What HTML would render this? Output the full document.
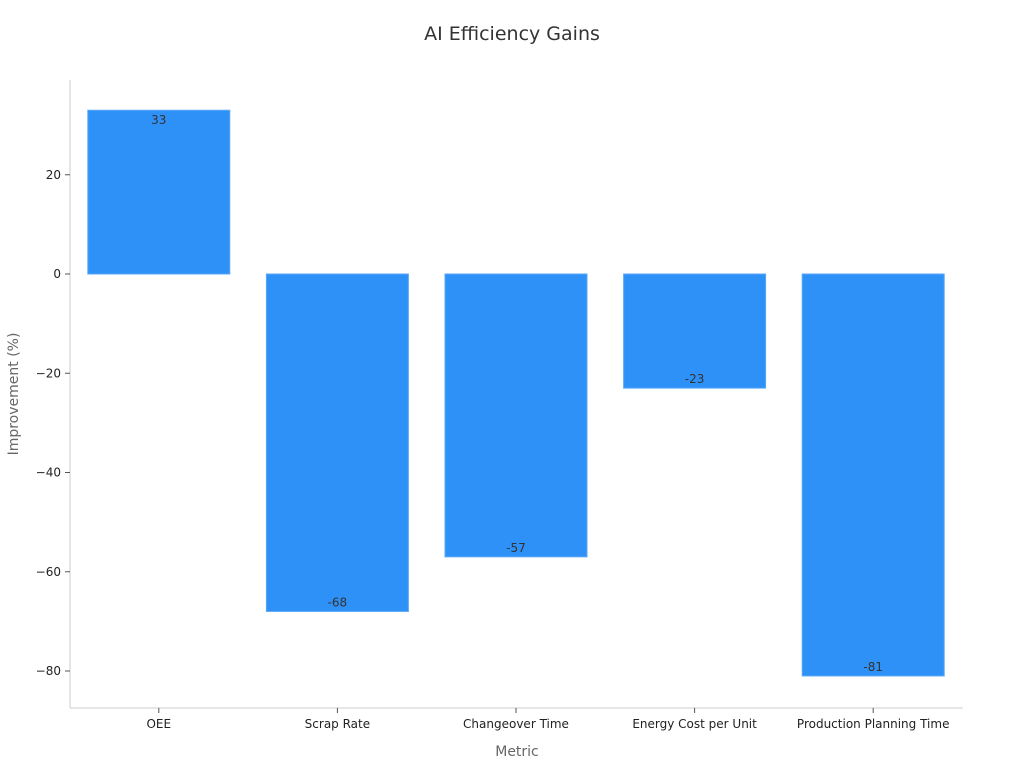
<!DOCTYPE html>
<html><head><meta charset="utf-8"><style>
body{margin:0;background:#fff;font-family:"DejaVu Sans","Liberation Sans",sans-serif;}
</style></head><body>
<svg id="chart" width="1024" height="768" xmlns="http://www.w3.org/2000/svg" font-family="DejaVu Sans, Liberation Sans, sans-serif">
<text x="512" y="40" text-anchor="middle" font-size="19" fill="#333">AI Efficiency Gains</text>
<g id="axes"></g>
<g id="bars"></g>
<text x="517" y="756" text-anchor="middle" font-size="14" fill="#666">Metric</text>
<text transform="translate(18,394) rotate(-90)" text-anchor="middle" font-size="14" fill="#666">Improvement (%)</text>
</svg>
<script>
const categories = ["OEE","Scrap Rate","Changeover Time","Energy Cost per Unit","Production Planning Time"];
const values = [33,-68,-57,-23,-81];
const yTicks = [20,0,-20,-40,-60,-80];
const yTickLabels = ["20","0","\u221220","\u221240","\u221260","\u221280"];
const NS="http://www.w3.org/2000/svg";
const L=70,R=963,T=80,B=708;
const y=v=>274-v*4.9625;
const band=(R-L)/categories.length;
const xc=i=>L+band*(i+0.5)-0.5;
const bw=142;
function mk(t,a,p){const e=document.createElementNS(NS,t);for(const k in a)e.setAttribute(k,a[k]);p.appendChild(e);return e;}
const ax=document.getElementById('axes'),bg=document.getElementById('bars');
const yl=mk('line',{x1:L,y1:T,x2:L,y2:B,stroke:'#ccc'},ax);


const xl=mk('line',{x1:L,y1:B,x2:R,y2:B,stroke:'#ccc'},ax);


yTicks.forEach((v,i)=>{
  const tk=mk('line',{x1:L-5,x2:L,y1:y(v),y2:y(v),stroke:'#555'},ax);
  
  
  const t=mk('text',{x:L-9,y:y(v)+4,'text-anchor':'end','font-size':12,fill:'#222'},ax);
  t.textContent=yTickLabels[i];
  
  
});
categories.forEach((c,i)=>{
  const x=xc(i);
  const tk=mk('line',{x1:x,x2:x,y1:B,y2:B+5,stroke:'#555'},ax);
  
  
  const t=mk('text',{x:x,y:B+20,'text-anchor':'middle','font-size':12,fill:'#222'},ax);
  t.textContent=c;
  
  
  const v=values[i];
  const y0=y(0),y1=y(v);
  const r=mk('rect',{x:x-bw/2,y:Math.min(y0,y1),width:bw,height:Math.abs(y1-y0),fill:'#2e91f7',stroke:'#5aa8f8','stroke-width':1},bg);
  
  
  const lb=mk('text',{x:x,y:v>=0?y1+14:y1-5,'text-anchor':'middle','font-size':12,fill:'#333'},bg);
  lb.textContent=String(v);
  
  
});
</script>
</body></html>
